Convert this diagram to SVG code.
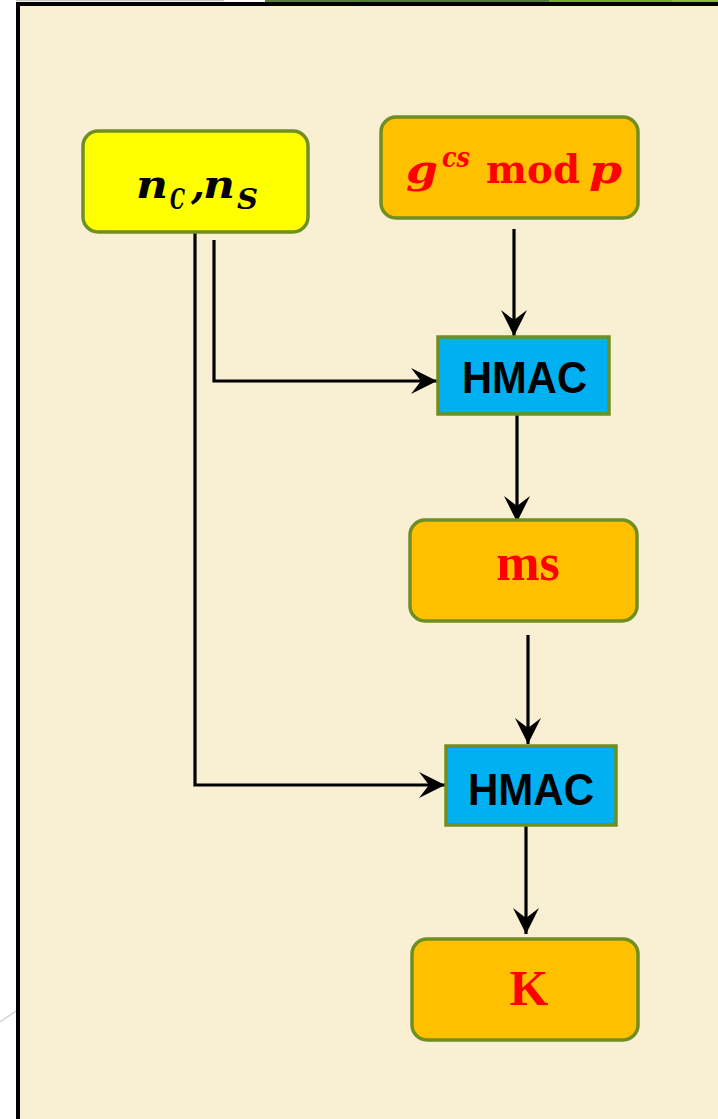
<svg xmlns="http://www.w3.org/2000/svg" width="718" height="1119" viewBox="0 0 718 1119">
  <style>
    .box { stroke: #6F8F22; stroke-width: 3.5; }
    .y { fill: #FFFF00; }
    .o { fill: #FFC000; }
    .b { fill: #00B0F0; }
    .math { font-family: "DejaVu Serif", "Liberation Serif", serif; font-weight: bold; }
    .serif { font-family: "Liberation Serif", "DejaVu Serif", serif; font-weight: bold; }
    .red { fill: #FF0000; }
    .hm { font-family: "Liberation Sans", "DejaVu Sans", sans-serif; font-weight: bold; font-size: 44px; fill: #000; }
    .conn { fill: none; stroke: #000; stroke-width: 3.2; }
  </style>
  <defs>
    <marker id="arr" markerUnits="userSpaceOnUse" viewBox="-27 -14 28 28" refX="0" refY="0" markerWidth="28" markerHeight="28" orient="auto">
      <path d="M0,0 L-26,-13 L-16,0 L-26,13 Z" fill="#000"/>
    </marker>
  </defs>
  <rect x="0" y="0" width="718" height="1119" fill="#FFFFFF"/>
  <line x1="16" y1="0.5" x2="224" y2="0.5" stroke="#C8C8C8" stroke-width="1.5"/>
  <rect x="265" y="0" width="95" height="2" fill="#5A7F32"/>
  <rect x="360" y="0" width="189" height="2" fill="#4E7A35"/>
  <rect x="549" y="0" width="123" height="2" fill="#79A82B"/>
  <rect x="672" y="0" width="46" height="2" fill="#8DB83A"/>
  <line x1="0" y1="1022" x2="16" y2="1011" stroke="#D4D4D4" stroke-width="1.5"/>
  <rect x="18" y="4" width="720" height="1140" fill="#F9EFD2" stroke="#000" stroke-width="4"/>

  <g id="connectors">
    <path class="conn" d="M514,229 L514,336" marker-end="url(#arr)"/>
    <path class="conn" d="M214,240 L214,381 L437,381" marker-end="url(#arr)"/>
    <path class="conn" d="M517,415 L517,522" marker-end="url(#arr)"/>
    <path class="conn" d="M528,635 L528,744" marker-end="url(#arr)"/>
    <path class="conn" d="M195,232 L195,785 L445,785" marker-end="url(#arr)"/>
    <path class="conn" d="M526,826 L526,934" marker-end="url(#arr)"/>
  </g>

  <g id="node-nonces">
    <rect class="box y" x="83" y="131" width="225" height="101" rx="15"/>
    <text class="math" font-style="italic" fill="#000" font-size="40"><tspan x="136" y="198" textLength="32" lengthAdjust="spacingAndGlyphs">n</tspan><tspan x="170" y="209" font-size="27" textLength="15" lengthAdjust="spacingAndGlyphs">C</tspan><tspan x="191" y="198">,</tspan><tspan x="203" y="198" textLength="32" lengthAdjust="spacingAndGlyphs">n</tspan><tspan x="237" y="209" font-size="27" textLength="21" lengthAdjust="spacingAndGlyphs">S</tspan></text>
  </g>

  <g id="node-gcs">
    <rect class="box o" x="381" y="117" width="257" height="101" rx="15"/>
    <text class="math red" font-size="40"><tspan x="406" y="183" font-style="italic" textLength="32" lengthAdjust="spacingAndGlyphs">g</tspan><tspan x="442" y="167" font-size="27" font-style="italic" textLength="28" lengthAdjust="spacingAndGlyphs">cs</tspan><tspan x="486" y="183" textLength="94" lengthAdjust="spacingAndGlyphs">mod</tspan><tspan x="589" y="183" font-style="italic" textLength="33" lengthAdjust="spacingAndGlyphs">p</tspan></text>
  </g>

  <g id="node-hmac1">
    <rect class="box b" x="438" y="337" width="171" height="77"/>
    <text class="hm" x="462" y="393" textLength="125" lengthAdjust="spacingAndGlyphs">HMAC</text>
  </g>

  <g id="node-ms">
    <rect class="box o" x="410" y="520" width="227" height="101" rx="15"/>
    <text class="serif red" x="528" y="580" font-size="52" text-anchor="middle">ms</text>
  </g>

  <g id="node-hmac2">
    <rect class="box b" x="446" y="746" width="170" height="79"/>
    <text class="hm" x="468" y="805" textLength="126" lengthAdjust="spacingAndGlyphs">HMAC</text>
  </g>

  <g id="node-k">
    <rect class="box o" x="412" y="939" width="226" height="101" rx="15"/>
    <text class="serif red" x="529" y="1005" font-size="50" text-anchor="middle">K</text>
  </g>
</svg>
